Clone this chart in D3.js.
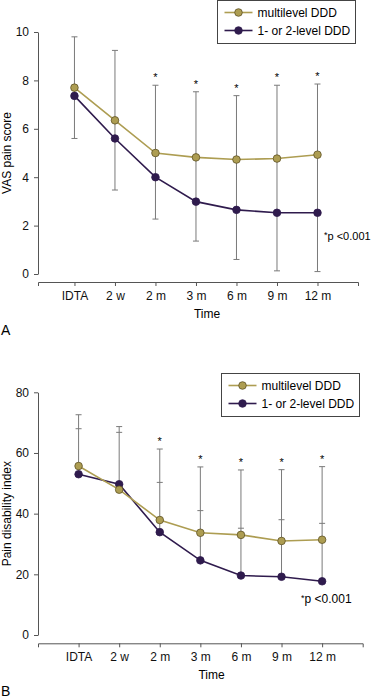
<!DOCTYPE html>
<html>
<head>
<meta charset="utf-8">
<script src="https://cdn.jsdelivr.net/npm/d3@7"></script>
<style>
  body { margin: 0; background: #fff; }
  text { font-family: "Liberation Sans", Arial, sans-serif; }
</style>
</head>
<body>
<div id="chart-area"></div>
<script>
const timeLabels = ["IDTA", "2 w", "2 m", "3 m", "6 m", "9 m", "12 m"]
const seriesNames = ["multilevel DDD", "1- or 2-level DDD"]
const sigIdx = [2, 3, 4, 5, 6]

// panel A - VAS
const vasMulti = [7.7, 6.35, 5.0, 4.82, 4.73, 4.77, 4.93]
const vasLow = [7.36, 5.6, 4.0, 2.99, 2.65, 2.53, 2.53]
const vasMultiUpper = [9.8, 9.24, 7.8, 7.53, 7.37, 7.8, 7.85]
const vasLowLower = [5.6, 3.47, 2.27, 1.36, 0.6, 0.13, 0.1]
const vasTicks = [0, 2, 4, 6, 8, 10]

// panel B - PDI
const pdiMulti = [55.7, 47.9, 37.9, 33.7, 33.0, 31.0, 31.4]
const pdiLow = [53.0, 49.7, 33.9, 24.6, 19.6, 19.2, 17.7]
const pdiMultiUpper = [72.6, 68.7, 61.3, 55.4, 54.4, 54.5, 55.5]
const pdiLowUpper = [68.0, 66.8, 50.3, 41.0, 35.2, 38.0, 36.8]
const pdiTicks = [0, 20, 40, 60, 80]

const GOLD = "#ad9d52"
const GOLD_DARK = "#5e5224"
const PURPLE = "#2f1b4d"
const BAR = "#7a7a7a"
const AXIS = "#555"

const svg = d3.select("#chart-area")
  .append("svg")
  .attr("width", 373)
  .attr("height", 699)

const drawPanel = cfg => {
  const g = svg.append("g")

  const x = d3.scaleLinear().domain(cfg.xDomain).range([38, cfg.xRight])
  const y = d3.scaleLinear().domain([0, cfg.yMax]).range([cfg.y0, cfg.yTop])

  // axes
  const yAxis = g.append("g")
    .attr("transform", "translate(38,0)")
    .call(d3.axisLeft(y).tickValues(cfg.yTicks).tickSize(4).tickSizeOuter(0).tickPadding(5))
  const xAxis = g.append("g")
    .attr("transform", `translate(0,${cfg.xAxisY})`)
    .call(d3.axisBottom(x).tickValues(d3.range(0, 7)).tickFormat(i => timeLabels[i])
      .tickSize(4).tickSizeOuter(4).tickPadding(5))
  ;[yAxis, xAxis].forEach(a => {
    a.selectAll("path, line").attr("stroke", AXIS)
    a.selectAll("text").attr("font-size", "12px").attr("fill", "#111")
      .style("font-family", "'Liberation Sans', Arial, sans-serif")
  })

  // error bars
  timeLabels.forEach((t, i) => {
    const ends = cfg.bars.map(b => b[i])
    const lo = Math.min(...ends, cfg.a[i], cfg.b[i])
    const hi = Math.max(...ends)
    g.append("line")
      .attr("x1", x(i)).attr("x2", x(i))
      .attr("y1", y(lo)).attr("y2", y(hi))
      .attr("stroke", BAR).attr("stroke-width", 1)
    ends.forEach(v => {
      g.append("line")
        .attr("x1", x(i) - 3).attr("x2", x(i) + 3)
        .attr("y1", y(v)).attr("y2", y(v))
        .attr("stroke", BAR).attr("stroke-width", 1)
    })
    if (sigIdx.includes(i)) {
      g.append("text")
        .attr("x", x(i)).attr("y", y(hi) - 4)
        .attr("text-anchor", "middle")
        .attr("font-size", "11px")
        .text("*")
    }
  })

  // lines
  const line = d3.line().x((d, i) => x(i)).y(d => y(d))
  ;[[cfg.b, PURPLE, PURPLE], [cfg.a, GOLD, GOLD_DARK]].forEach(([vals, col, edge]) => {
    g.append("path")
      .attr("d", line(vals))
      .attr("fill", "none").attr("stroke", col).attr("stroke-width", 1.6)
    g.selectAll(null).data(vals).enter().append("circle")
      .attr("cx", (d, i) => x(i)).attr("cy", d => y(d))
      .attr("r", 3.8)
      .attr("fill", col).attr("stroke", edge).attr("stroke-width", 0.8)
  })

  // labels
  g.append("text")
    .attr("transform", `translate(11,${(cfg.y0 + cfg.yTop) / 2}) rotate(-90)`)
    .attr("text-anchor", "middle").attr("font-size", "12px")
    .text(cfg.yLabel)
  g.append("text")
    .attr("x", cfg.timeX).attr("y", cfg.xAxisY + 36)
    .attr("text-anchor", "middle").attr("font-size", "12px")
    .text("Time")
  g.append("text")
    .attr("x", 1).attr("y", cfg.letterY)
    .attr("font-size", "14px")
    .text(cfg.letter)

  const p = g.append("text")
    .attr("x", cfg.pX).attr("y", cfg.pY)
    .attr("font-size", cfg.pSize)
  p.append("tspan").attr("font-size", "9px").attr("dy", "-2").text("*")
  p.append("tspan").attr("dy", "2").text("p <0.001")

  // legend
  const lg = g.append("g").attr("transform", `translate(${cfg.legX},${cfg.legY})`)
  lg.append("rect")
    .attr("width", 138).attr("height", 43)
    .attr("fill", "#fff").attr("stroke", "#444").attr("stroke-width", 1)
  ;[[GOLD, GOLD_DARK], [PURPLE, PURPLE]].forEach(([col, edge], k) => {
    const yy = 12 + k * 18
    lg.append("line").attr("x1", 7).attr("x2", 35).attr("y1", yy).attr("y2", yy)
      .attr("stroke", col).attr("stroke-width", 1.6)
    lg.append("circle").attr("cx", 21).attr("cy", yy).attr("r", 3.8)
      .attr("fill", col).attr("stroke", edge).attr("stroke-width", 0.8)
    lg.append("text").attr("x", 40).attr("y", yy + 4.3)
      .attr("font-size", "12px").text(seriesNames[k])
  })
}

drawPanel({
  a: vasMulti, b: vasLow, bars: [vasMultiUpper, vasLowLower],
  yMax: 10, yTicks: vasTicks, y0: 274, yTop: 32,
  xDomain: [-0.9, 7], xRight: 358, xAxisY: 282,
  yLabel: "VAS pain score", timeX: 207, letter: "A", letterY: 335,
  pX: 324, pY: 240, pSize: "11px", legX: 217.5, legY: 0.5
})

drawPanel({
  a: pdiMulti, b: pdiLow, bars: [pdiMultiUpper, pdiLowUpper],
  yMax: 80, yTicks: pdiTicks, y0: 635, yTop: 392.3,
  xDomain: [-1, 7], xRight: 362.7, xAxisY: 643.3,
  yLabel: "Pain disability index", timeX: 211.5, letter: "B", letterY: 696,
  pX: 301, pY: 603, pSize: "12px", legX: 221.5, legY: 373.5
})
</script>
</body>
</html>
